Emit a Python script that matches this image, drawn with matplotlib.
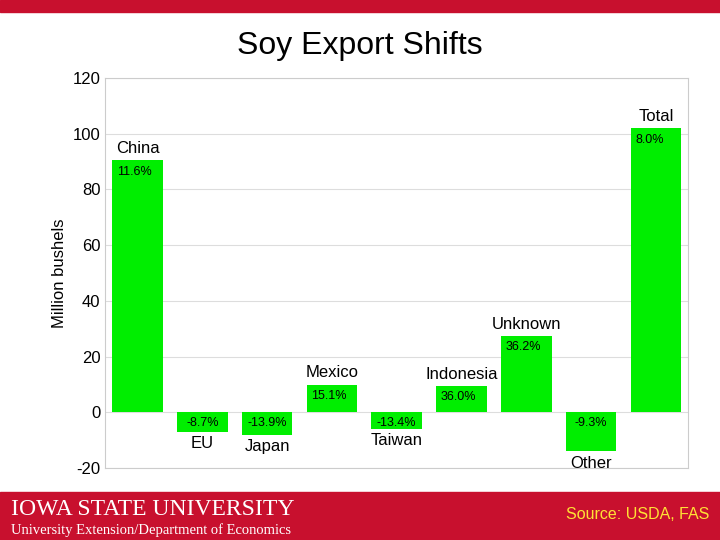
import matplotlib.pyplot as plt
import matplotlib.patches as mpatches

plt.rcParams['font.family'] = ['Liberation Sans', 'DejaVu Sans']
plt.rcParams['axes.unicode_minus'] = False

names = ["China", "EU", "Japan", "Mexico", "Taiwan", "Indonesia", "Unknown", "Other", "Total"]
values = [90.5, -7, -8, 10, -6, 9.5, 27.5, -14, 102]
pcts = ["11.6%", "-8.7%", "-13.9%", "15.1%", "-13.4%", "36.0%", "36.2%", "-9.3%", "8.0%"]

fig = plt.figure(figsize=(7.2, 5.4), dpi=100)
fig.patch.set_facecolor("white")

# top and bottom red bands
fig.patches.append(mpatches.Rectangle((0, 1 - 12 / 540), 1, 12 / 540, transform=fig.transFigure,
                                      color="#c8102e", zorder=0))
fig.patches.append(mpatches.Rectangle((0, 0), 1, 48 / 540, transform=fig.transFigure,
                                      color="#c8102e", zorder=0))
fig.text(0.5, 0.915, "Soy Export Shifts", ha="center", va="center", fontsize=23)
fig.text(0.015, 0.057, "IOWA STATE UNIVERSITY", color="white", fontsize=17,
         family="Liberation Serif", va="center")
fig.text(0.015, 0.018, "University Extension/Department of Economics", color="white",
         fontsize=10.5, family="Liberation Serif", va="center")
fig.text(0.985, 0.048, "Source: USDA, FAS", color="#ffe135", fontsize=11.5,
         ha="right", va="center")

ax = fig.add_axes([0.146, 0.133, 0.81, 0.723])
x = range(len(names))
ax.bar(x, values, width=0.78, color="#00ee00")
ax.set_xlim(-0.5, len(names) - 0.5)
ax.set_ylim(-20, 120)
ax.set_yticks(range(-20, 121, 20))
ax.tick_params(axis="y", labelsize=12, length=0)
ax.set_xticks([])
ax.set_ylabel("Million bushels", fontsize=12)
ax.grid(axis="y", color="#dddddd", linewidth=0.8)
ax.set_axisbelow(True)
for s in ax.spines.values():
    s.set_color("#cccccc")

for i, (n, v, p) in enumerate(zip(names, values, pcts)):
    if v > 0:
        ax.text(i - 0.32, v - 2, p, fontsize=9, va="top", ha="left")
        ax.text(i, v + 1.5, n, fontsize=12, ha="center", va="bottom")
    else:
        ax.text(i, -1.5, p, fontsize=9, va="top", ha="center")
        ax.text(i, v - 1.5, n, fontsize=12, ha="center", va="top")

fig.savefig("out.png", dpi=100)
